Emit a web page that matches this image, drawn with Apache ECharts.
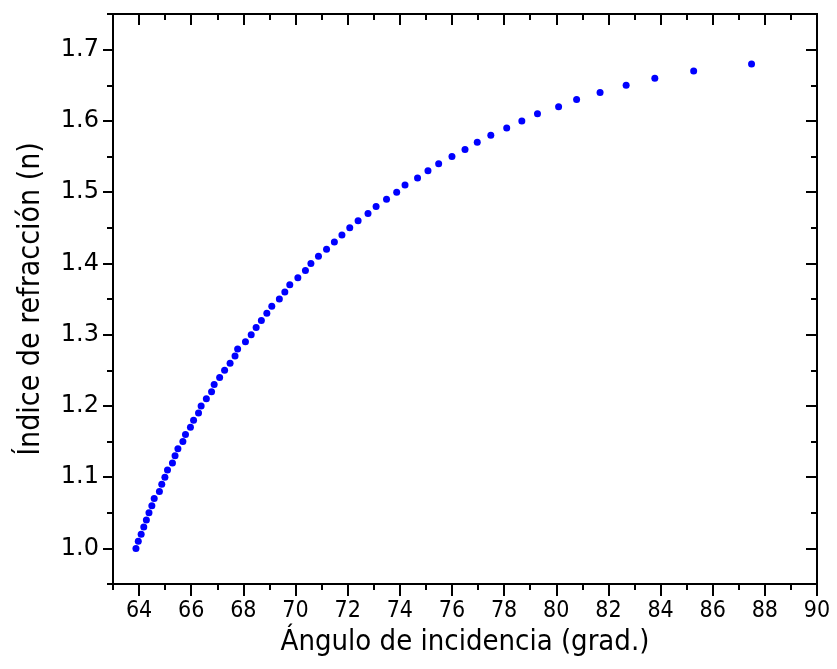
<!DOCTYPE html>
<html>
<head>
<meta charset="utf-8">
<script src="https://cdn.jsdelivr.net/npm/echarts@6/dist/echarts.min.js"></script>
<style>
html,body{margin:0;padding:0;background:#fff;}
#chart{width:837px;height:669px;}
</style>
</head>
<body>
<div id="chart"></div>
<script>
// Refractive index values (y) and incidence angle values (x)
const indexValues = [1.00,1.01,1.02,1.03,1.04,1.05,1.06,1.07,1.08,1.09,
  1.10,1.11,1.12,1.13,1.14,1.15,1.16,1.17,1.18,1.19,
  1.20,1.21,1.22,1.23,1.24,1.25,1.26,1.27,1.28,1.29,
  1.30,1.31,1.32,1.33,1.34,1.35,1.36,1.37,1.38,1.39,
  1.40,1.41,1.42,1.43,1.44,1.45,1.46,1.47,1.48,1.49,
  1.50,1.51,1.52,1.53,1.54,1.55,1.56,1.57,1.58,1.59,
  1.60,1.61,1.62,1.63,1.64,1.65,1.66,1.67,1.68];
const angleValues = [63.88,63.97,64.08,64.18,64.28,64.38,64.49,64.58,64.78,64.87,
  64.99,65.09,65.28,65.38,65.49,65.68,65.78,65.97,66.09,66.28,
  66.38,66.58,66.78,66.88,67.09,67.28,67.49,67.68,67.78,68.08,
  68.30,68.49,68.69,68.90,69.09,69.38,69.59,69.78,70.09,70.38,
  70.59,70.88,71.19,71.49,71.78,72.08,72.40,72.78,73.09,73.49,
  73.88,74.20,74.68,75.08,75.49,76.00,76.50,76.97,77.49,78.10,
  78.68,79.28,80.09,80.78,81.68,82.68,83.78,85.27,87.49];

// Tick values
const xMajorTicks = [64,66,68,70,72,74,76,78,80,82,84,86,88,90];
const xMinorTicks = [63,65,67,69,71,73,75,77,79,81,83,85,87,89];
const yMajorTicks = [1.0,1.1,1.2,1.3,1.4,1.5,1.6,1.7];
const yMinorTicks = [0.95,1.05,1.15,1.25,1.35,1.45,1.55,1.65,1.75];

const xTitle = 'Ángulo de incidencia (grad.)';
const yTitle = 'Índice de refracción (n)';

const X_MIN = 63, X_MAX = 90, Y_MIN = 0.95, Y_MAX = 1.75;

function makeAxis(kind, pos, ticks, len, inside, withLabels, extra) {
  const ax = {
    type: 'value',
    position: pos,
    min: kind === 'x' ? X_MIN : Y_MIN,
    max: kind === 'x' ? X_MAX : Y_MAX,
    axisLine: { show: true, onZero: false, lineStyle: { color: '#000', width: 2 } },
    axisTick: { show: true, customValues: ticks, length: len, inside: inside,
      lineStyle: { color: '#000', width: 2 } },
    axisLabel: { show: withLabels },
    splitLine: { show: false },
    minorTick: { show: false },
    minorSplitLine: { show: false }
  };
  if (withLabels) ax.axisLabel.customValues = ticks;
  return Object.assign(ax, extra || {});
}

const chart = echarts.init(document.getElementById('chart'), null, { renderer: 'canvas' });

const xMain = makeAxis('x', 'bottom', xMajorTicks, 12, false, true, {
  name: xTitle,
  nameLocation: 'middle',
  nameGap: 37,
  nameTextStyle: { fontFamily: 'DejaVu Sans Condensed, DejaVu Sans', fontSize: 29, color: '#000' }
});
xMain.axisLabel = { show: true, customValues: xMajorTicks, margin: 16,
  fontFamily: 'DejaVu Sans Condensed, DejaVu Sans', fontSize: 23, color: '#000',
  formatter: v => String(Math.round(v)) };

const yMain = makeAxis('y', 'left', yMajorTicks, 10, false, true, {
  name: yTitle,
  nameLocation: 'middle',
  nameGap: 67,
  nameRotate: 90,
  nameTextStyle: { fontFamily: 'DejaVu Sans Condensed, DejaVu Sans', fontSize: 30, color: '#000' }
});
yMain.axisLabel = { show: true, customValues: yMajorTicks, margin: 14,
  fontFamily: 'DejaVu Sans', fontSize: 24, color: '#000',
  formatter: v => v.toFixed(1) };

chart.setOption({
  animation: false,
  backgroundColor: '#fff',
  grid: { left: 113, right: 20, top: 14, bottom: 85, containLabel: false },
  xAxis: [
    xMain,
    makeAxis('x', 'bottom', xMinorTicks, 6, false, false),
    makeAxis('x', 'top', xMajorTicks, 11, true, false),
    makeAxis('x', 'top', xMinorTicks, 6, true, false)
  ],
  yAxis: [
    yMain,
    makeAxis('y', 'left', yMinorTicks, 6, false, false),
    makeAxis('y', 'right', yMajorTicks, 11, true, false),
    makeAxis('y', 'right', yMinorTicks, 6, true, false)
  ],
  series: [{
    type: 'scatter',
    xAxisIndex: 0,
    yAxisIndex: 0,
    symbol: 'circle',
    symbolSize: 7,
    itemStyle: { color: '#0000ff', opacity: 1 },
    data: angleValues.map((a, i) => [a, indexValues[i]])
  }]
});
</script>
</body>
</html>
